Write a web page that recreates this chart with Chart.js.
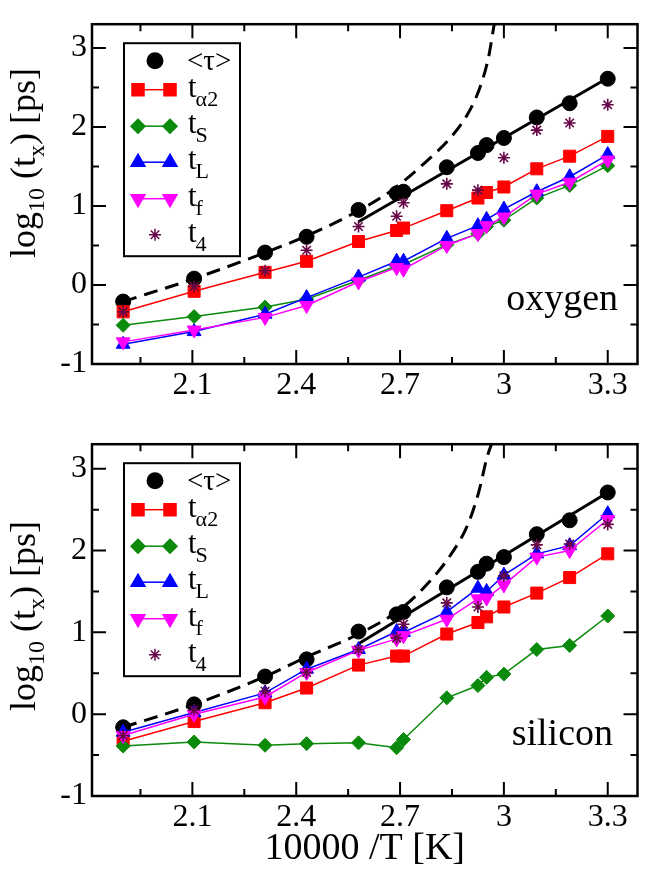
<!DOCTYPE html>
<html>
<head>
<meta charset="utf-8">
<script src="https://cdn.jsdelivr.net/npm/chart.js@4.4.1/dist/chart.umd.min.js"></script>
<style>
  html, body { margin: 0; padding: 0; background: #fff; }
  #wrap { position: relative; width: 647px; height: 873px; }
  canvas { position: absolute; left: 0; }
</style>
</head>
<body>
<div id="wrap">
  <canvas id="oxygenChart" width="647" height="420" style="top:0"></canvas>
  <canvas id="siliconChart" width="647" height="453" style="top:420px"></canvas>
</div>
<script>
// ---- data: log10 of characteristic times vs 10000/T ----
const invT = [1.90, 2.105, 2.31, 2.43, 2.58, 2.69, 2.71, 2.835, 2.925, 2.95, 3.00, 3.095, 3.19, 3.30];

// oxygen
const tauO = [-0.21, 0.08, 0.41, 0.61, 0.95, 1.16, 1.18, 1.49, 1.67, 1.77, 1.86, 2.12, 2.30, 2.61];
const ta2O = [-0.34, -0.08, 0.16, 0.30, 0.55, 0.69, 0.72, 0.94, 1.10, 1.17, 1.24, 1.47, 1.63, 1.88];
const tsO  = [-0.51, -0.40, -0.28, -0.18, 0.06, 0.24, 0.26, 0.51, 0.65, 0.74, 0.82, 1.10, 1.26, 1.51];
const tLO  = [-0.75, -0.59, -0.37, -0.16, 0.10, 0.30, 0.30, 0.59, 0.75, 0.83, 0.96, 1.18, 1.37, 1.65];
const tfO  = [-0.72, -0.57, -0.41, -0.26, 0.04, 0.22, 0.20, 0.50, 0.65, 0.75, 0.86, 1.15, 1.30, 1.58];
const t4O  = [-0.34, -0.02, 0.18, 0.44, 0.74, 0.87, 1.04, 1.28, 1.20, null, 1.61, 1.96, 2.05, 2.28];
const vftXO = [1.90, 2.105, 2.31, 2.43, 2.58, 2.68, 2.77, 2.845, 2.895, 2.93, 2.955, 2.972];
const vftYO = [-0.21, 0.08, 0.41, 0.62, 0.94, 1.21, 1.54, 1.86, 2.16, 2.49, 2.87, 3.30];
const arrXO = [2.58, 3.30];
const arrYO = [0.80, 2.62];

// silicon
const tauS = [-0.16, 0.12, 0.46, 0.67, 1.01, 1.22, 1.25, 1.55, 1.74, 1.84, 1.92, 2.20, 2.37, 2.71];
const ta2S = [-0.33, -0.09, 0.14, 0.32, 0.60, 0.71, 0.71, 0.98, 1.12, 1.19, 1.31, 1.48, 1.67, 1.96];
const tsS  = [-0.39, -0.34, -0.38, -0.36, -0.35, -0.41, -0.31, 0.20, 0.35, 0.45, 0.49, 0.79, 0.84, 1.20];
const tLS  = [-0.22, 0.02, 0.26, 0.55, 0.79, 1.01, 1.00, 1.25, 1.54, 1.50, 1.70, 1.96, 2.06, 2.45];
const tfS  = [-0.26, 0.00, 0.21, 0.51, 0.78, 0.92, 0.96, 1.16, 1.41, 1.42, 1.58, 1.92, 2.00, 2.38];
const t4S  = [-0.26, 0.05, 0.28, 0.51, 0.79, 0.93, 1.10, 1.36, 1.31, null, 1.69, 2.07, 2.08, 2.32];
const vftXS = [1.90, 2.105, 2.31, 2.43, 2.58, 2.70, 2.772, 2.845, 2.895, 2.927, 2.952, 2.965];
const vftYS = [-0.16, 0.12, 0.46, 0.70, 0.98, 1.28, 1.56, 1.94, 2.31, 2.71, 3.15, 3.31];
const arrXS = [2.58, 3.30];
const arrYS = [0.86, 2.71];

// axis ticks
const xMajor = [2.1, 2.4, 2.7, 3.0, 3.3];
const xMinor = [1.95, 2.25, 2.55, 2.85, 3.15];
const yMajor = [-1, 0, 1, 2, 3];
const yMinor = [-0.5, 0.5, 1.5, 2.5];

// ---- styling ----
const FAMILY = "'Liberation Serif', 'Times New Roman', serif";
const style = {
  tau: { color: '#000000', pointStyle: 'circle',   radius: 7.5, rotation: 0,   line: false, text: '<\u03C4>', sub: '' },
  ta2: { color: '#ff0000', pointStyle: 'rect',     radius: 8.5, rotation: 0,   line: true,  text: 't', sub: '\u03B12' },
  ts:  { color: '#0b8a0b', pointStyle: 'rectRot',  radius: 7,   rotation: 0,   line: true,  text: 't', sub: 'S' },
  tL:  { color: '#0000ff', pointStyle: 'triangle', radius: 8,   rotation: 0,   line: true,  text: 't', sub: 'L' },
  tf:  { color: '#ff00ff', pointStyle: 'triangle', radius: 8,   rotation: 180, line: true,  text: 't', sub: 'f' },
  t4:  { color: '#670748', pointStyle: 'star',     radius: 6,   rotation: 0,   line: false, text: 't', sub: '4' }
};
const legendOrder = ['tau', 'ta2', 'ts', 'tL', 'tf', 't4'];
const legendRowY = [17.5, 46.5, 83, 119, 155.5, 191.5];

function pts(xs, ys) {
  const out = [];
  xs.forEach((x, i) => { if (ys[i] !== null) out.push({ x: x, y: ys[i] }); });
  return out;
}

function seriesSet(key, ys) {
  const s = style[key];
  return {
    data: pts(invT, ys),
    showLine: s.line,
    borderColor: s.color,
    backgroundColor: s.color,
    borderWidth: 1.5,
    pointStyle: s.pointStyle,
    pointRadius: s.radius,
    pointRotation: s.rotation,
    pointBackgroundColor: s.color,
    pointBorderColor: s.color,
    pointBorderWidth: key === 't4' ? 1.6 : 1
  };
}

// frame and inward ticks on all four sides
const framePlugin = {
  id: 'frame',
  afterDatasetsDraw(chart) {
    const { ctx, chartArea: a, scales: { x, y } } = chart;
    ctx.save();
    ctx.strokeStyle = '#000';
    ctx.lineWidth = 2;
    const xt = (vals, len) => vals.forEach(v => {
      const p = x.getPixelForValue(v);
      ctx.beginPath();
      ctx.moveTo(p, a.bottom); ctx.lineTo(p, a.bottom - len);
      ctx.moveTo(p, a.top); ctx.lineTo(p, a.top + len);
      ctx.stroke();
    });
    const yt = (vals, len) => vals.forEach(v => {
      const p = y.getPixelForValue(v);
      ctx.beginPath();
      ctx.moveTo(a.left, p); ctx.lineTo(a.left + len, p);
      ctx.moveTo(a.right, p); ctx.lineTo(a.right - len, p);
      ctx.stroke();
    });
    xt(xMajor, 14); xt(xMinor, 7);
    yt(yMajor, 14); yt(yMinor, 7);
    ctx.lineWidth = 2.5;
    ctx.strokeRect(a.left, a.top, a.right - a.left, a.bottom - a.top);
    ctx.restore();
  }
};

// boxed legend with subscripted labels
const boxLegendPlugin = {
  id: 'boxLegend',
  afterDraw(chart) {
    const { ctx, chartArea: a } = chart;
    const left = 124, right = 240, top = a.top + 19, h = 213;
    ctx.save();
    ctx.fillStyle = '#fff';
    ctx.fillRect(left, top, right - left, h);
    ctx.lineWidth = 2;
    ctx.strokeStyle = '#000';
    ctx.strokeRect(left, top, right - left, h);
    legendOrder.forEach((key, i) => {
      const s = style[key];
      const y = top + legendRowY[i];
      ctx.fillStyle = s.color;
      ctx.strokeStyle = s.color;
      const opt = { pointStyle: s.pointStyle, radius: s.radius, rotation: s.rotation, borderWidth: key === 't4' ? 1.6 : 1 };
      if (s.line) {
        ctx.lineWidth = 1.5;
        ctx.beginPath(); ctx.moveTo(138, y); ctx.lineTo(170, y); ctx.stroke();
        Chart.helpers.drawPoint(ctx, opt, 138, y);
        Chart.helpers.drawPoint(ctx, opt, 170, y);
      } else {
        Chart.helpers.drawPoint(ctx, opt, 155, y);
      }
      ctx.fillStyle = '#000';
      ctx.textBaseline = 'alphabetic';
      ctx.textAlign = 'left';
      if (key === 'tau') {
        ctx.font = `29px ${FAMILY}`;
        ctx.fillText(s.text, 187, y + 9);
      } else {
        ctx.font = `31px ${FAMILY}`;
        ctx.fillText(s.text, 188, y + 7);
        const w = ctx.measureText(s.text).width;
        ctx.font = `22px ${FAMILY}`;
        ctx.fillText(s.sub, 188 + w - 1, y + 16);
      }
    });
    ctx.restore();
  }
};

// rotated y title with subscripts, plus the panel name
const annotatePlugin = {
  id: 'annotate',
  afterDraw(chart, args, o) {
    const ctx = chart.ctx;
    ctx.save();
    ctx.fillStyle = '#000';
    ctx.font = `38px ${FAMILY}`;
    ctx.textAlign = 'right';
    ctx.textBaseline = 'alphabetic';
    ctx.fillText(o.panel, o.panelX, chart.chartArea.bottom - o.panelDy);

    ctx.translate(o.titleX, o.titleY);
    ctx.rotate(-Math.PI / 2);
    ctx.textAlign = 'left';
    const big = `36px ${FAMILY}`, small = `24px ${FAMILY}`;
    const parts = [['log', big, 0], ['10', small, 9], [' (t', big, 0], ['x', small, 9], [') [ps]', big, 0]];
    let w = 0;
    parts.forEach(p => { ctx.font = p[1]; w += ctx.measureText(p[0]).width; });
    let cx = -w / 2;
    parts.forEach(p => { ctx.font = p[1]; ctx.fillText(p[0], cx, p[2]); cx += ctx.measureText(p[0]).width; });
    ctx.restore();
  }
};

function makeChart(id, d, o) {
  const datasets = [
    seriesSet('t4', d.t4),
    seriesSet('tf', d.tf),
    seriesSet('tL', d.tL),
    seriesSet('ts', d.ts),
    seriesSet('ta2', d.ta2),
    {
      data: pts(d.vftX, d.vftY), showLine: true, borderColor: '#000', borderWidth: 3,
      borderDash: [14, 8], pointRadius: 0, cubicInterpolationMode: 'monotone'
    },
    {
      data: pts(d.arrX, d.arrY), showLine: true, borderColor: '#000', borderWidth: 3, pointRadius: 0
    },
    seriesSet('tau', d.tau)
  ];
  const tickFont = { family: FAMILY, size: 32 };
  return new Chart(document.getElementById(id), {
    type: 'scatter',
    data: { datasets },
    options: {
      responsive: false,
      animation: false,
      layout: { padding: { top: o.padTop, right: 1, left: 0, bottom: 0 } },
      plugins: {
        legend: { display: false },
        tooltip: { enabled: false },
        annotate: o.annotate
      },
      scales: {
        x: {
          type: 'linear', min: 1.81, max: 3.386,
          afterBuildTicks: s => { s.ticks = xMajor.map(v => ({ value: v })); },
          afterFit: s => { s.height = o.xHeight; },
          grid: { display: false, drawTicks: false },
          border: { display: false },
          ticks: { font: tickFont, color: '#000', padding: 2, maxRotation: 0, autoSkip: false,
                   callback: v => String(v) },
          title: o.xTitle
            ? { display: true, text: o.xTitle, color: '#000', font: { family: FAMILY, size: 38 },
                padding: { top: 0, bottom: 1 } }
            : { display: false }
        },
        y: {
          type: 'linear', min: -1, max: 3.3,
          afterBuildTicks: s => { s.ticks = yMajor.map(v => ({ value: v })); },
          afterFit: s => { s.width = 92; },
          grid: { display: false, drawTicks: false },
          border: { display: false },
          ticks: { font: tickFont, color: '#000', padding: 5, callback: v => String(v) }
        }
      }
    },
    plugins: [framePlugin, boxLegendPlugin, annotatePlugin]
  });
}

makeChart('oxygenChart',
  { tau: tauO, ta2: ta2O, ts: tsO, tL: tLO, tf: tfO, t4: t4O,
    vftX: vftXO, vftY: vftYO, arrX: arrXO, arrY: arrYO },
  { padTop: 5, xHeight: 56, xTitle: null,
    annotate: { panel: 'oxygen', panelX: 618, panelDy: 54, titleX: 35, titleY: 163 } });

makeChart('siliconChart',
  { tau: tauS, ta2: ta2S, ts: tsS, tL: tLS, tf: tfS, t4: t4S,
    vftX: vftXS, vftY: vftYS, arrX: arrXS, arrY: arrYS },
  { padTop: 17, xHeight: 77, xTitle: '10000 /T [K]',
    annotate: { panel: 'silicon', panelX: 613, panelDy: 51, titleX: 35, titleY: 196 } });
</script>
</body>
</html>
